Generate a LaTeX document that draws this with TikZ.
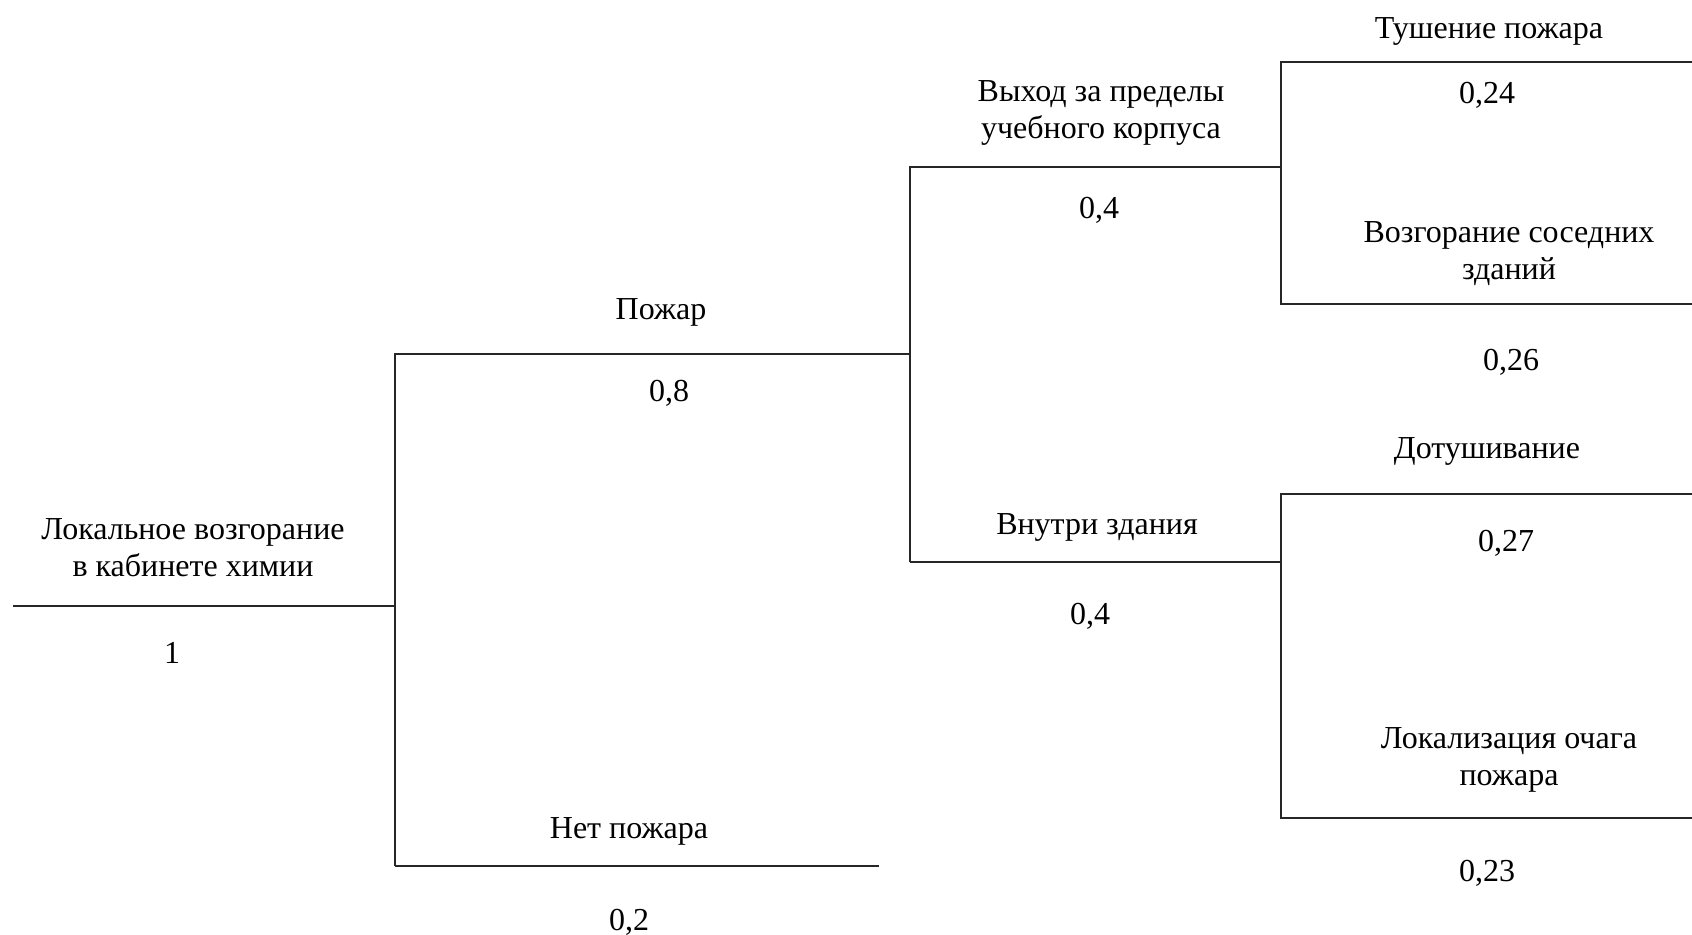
\documentclass[tikz,border=0pt]{standalone}
\usepackage{fontspec}
\setmainfont{Liberation Serif}

\begin{document}
\begin{tikzpicture}[x=0.5pt,y=-0.5pt,
  branch/.style={line width=0.75pt,draw=black!85},
  lbl/.style={inner sep=0pt,align=center,yshift=-1.5pt,font=\fontsize{16}{18.5}\selectfont}]
\useasboundingbox (0,0) rectangle (1692,934);
% junction points of the tree
\coordinate (root) at (13,606);
\coordinate (fork1) at (395,606);
\coordinate (fork1t) at (395,354);
\coordinate (fork1b) at (395,866);
\coordinate (fire) at (910,354);
\coordinate (nofire) at (879,866);
\coordinate (fork2t) at (910,167);
\coordinate (fork2b) at (910,562);
\coordinate (outside) at (1281,167);
\coordinate (inside) at (1281,562);
\coordinate (outt) at (1281,62);
\coordinate (outb) at (1281,304);
\coordinate (outtend) at (1692,62);
\coordinate (outbend) at (1692,304);
\coordinate (int) at (1281,494);
\coordinate (inb) at (1281,818);
\coordinate (intend) at (1692,494);
\coordinate (inbend) at (1692,818);
% branches
\draw[branch] (root) -- (fork1);
\draw[branch] (fork1b) -- (fork1t) -- (fire);
\draw[branch] (fork1b) -- (nofire);
\draw[branch] (fork2b) -- (fork2t) -- (outside);
\draw[branch] (fork2b) -- (inside);
\draw[branch] (outtend) -- (outt) -- (outb) -- (outbend);
\draw[branch] (intend) -- (int) -- (inb) -- (inbend);
% labels
\node[lbl] (rootlbl) at (193,545) {Локальное возгорание\\в кабинете химии};
\node[lbl] (rootp) at (172,650) {1};
\node[lbl] (firelbl) at (661,309) {Пожар};
\node[lbl] (firep) at (669,390) {0,8};
\node[lbl] (nofirelbl) at (629,828) {Нет пожара};
\node[lbl] (nofirep) at (629,919) {0,2};
\node[lbl] (outlbl) at (1101,110) {Выход за пределы\\учебного корпуса};
\node[lbl] (outp) at (1099,207) {0,4};
\node[lbl] (inlbl) at (1097,524) {Внутри здания};
\node[lbl] (inp) at (1090,613) {0,4};
\node[lbl] (extlbl) at (1489,28) {Тушение пожара};
\node[lbl] (extp) at (1487,92) {0,24};
\node[lbl] (spreadlbl) at (1509,251) {Возгорание соседних\\зданий};
\node[lbl] (spreadp) at (1511,359) {0,26};
\node[lbl] (finlbl) at (1487,448) {Дотушивание};
\node[lbl] (finp) at (1506,540) {0,27};
\node[lbl] (loclbl) at (1509,757) {Локализация очага\\пожара};
\node[lbl] (locp) at (1487,870) {0,23};
\end{tikzpicture}
\end{document}
